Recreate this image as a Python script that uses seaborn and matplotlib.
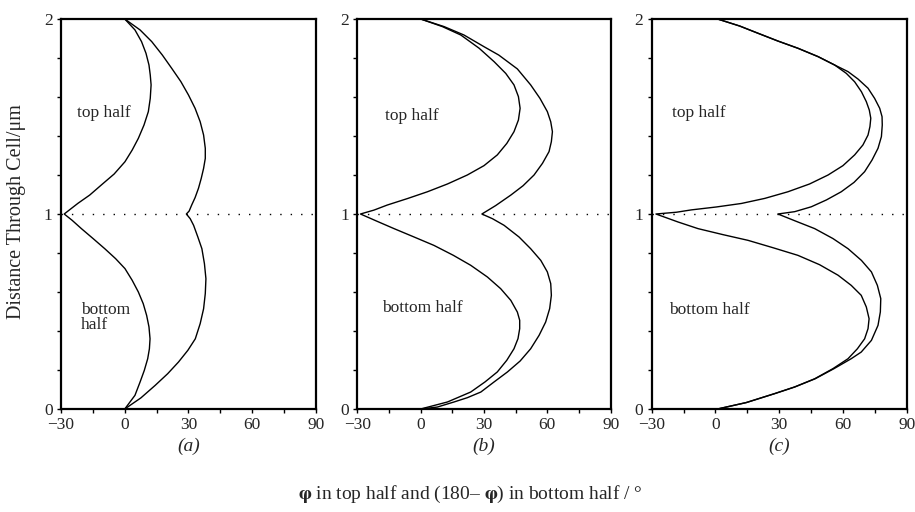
import numpy as np
import pandas as pd
import matplotlib
matplotlib.use("Agg")
import matplotlib.pyplot as plt
import seaborn as sns

# ---- data (x in degrees, y in micrometres) ----
a_inner_y = [0, 0.070, 0.138, 0.198, 0.258, 0.309, 0.36, 0.421, 0.48, 0.540, 0.6, 0.660, 0.72, 0.771,
             0.822, 0.874, 0.925, 0.968, 1.0, 1.055, 1.097, 1.149, 1.205, 1.268, 1.328, 1.388, 1.456,
             1.525, 1.593, 1.662, 1.713, 1.764, 1.824, 1.884, 1.944, 2.0]
a_inner_x = [0, 4.8, 7.2, 9.2, 10.8, 11.6, 11.9, 11.4, 10.3, 8.7, 6.4, 3.5, 0.1, -4.3,
             -9.4, -14.9, -20.4, -24.8, -28.5, -22, -16.5, -11, -5.0, 0.1, 3.5, 6.4, 9.05,
             11.1, 12.0, 12.4, 12.0, 11.4, 10.0, 7.9, 4.8, 0]
a_outer_y = [0, 0.057, 0.121, 0.181, 0.241, 0.301, 0.36, 0.438, 0.514, 0.592, 0.668, 0.745, 0.822,
             0.882, 0.942, 0.976, 1.0, 1.015, 1.046, 1.084, 1.132, 1.183, 1.234, 1.285, 1.337,
             1.405, 1.473, 1.542, 1.61, 1.679, 1.747, 1.815, 1.884, 1.944, 2.0]
a_outer_x = [0, 7.6, 14.3, 20.2, 25.3, 29.7, 33.2, 35.5, 37.1, 37.9, 38.2, 37.5, 36.3,
             34.4, 32.4, 30.8, 29, 30.3, 31.5, 33.1, 34.7, 36.0, 37.1, 37.9, 37.9,
             37.1, 35.5, 33.1, 30, 26.4, 22.1, 17.7, 12.7, 7.2, 0]

b_inner_y = [0, 0.036, 0.087, 0.139, 0.19, 0.250, 0.309, 0.361, 0.412, 0.455, 0.497, 0.557, 0.617,
             0.677, 0.737, 0.788, 0.839, 0.882, 0.925, 0.962, 1.0, 1.020, 1.046, 1.079, 1.114,
             1.154, 1.2, 1.248, 1.303, 1.362, 1.422, 1.482, 1.542, 1.602, 1.662, 1.721, 1.781,
             1.850, 1.918, 1.961, 2.0]
b_inner_x = [0, 12.7, 23.7, 30.5, 36.3, 40.8, 44.2, 46.1, 46.9, 46.9, 45.8, 42.7, 37.9,
             31.6, 23.7, 15.5, 6.3, -3.1, -12.6, -20.5, -28.5, -22.1, -15.8, -6.3, 3.2,
             12.7, 22.1, 30.0, 36.3, 40.8, 44.2, 46.3, 47.1, 46.3, 44.2, 40.3, 34.8,
             27.7, 19.0, 10.3, 0]
b_outer_y = [0, 0.010, 0.036, 0.058, 0.087, 0.139, 0.19, 0.246, 0.309, 0.378, 0.446, 0.515, 0.583,
             0.643, 0.703, 0.762, 0.822, 0.882, 0.942, 0.976, 1.0, 1.043, 1.097, 1.145, 1.2,
             1.260, 1.32, 1.371, 1.422, 1.473, 1.525, 1.593, 1.662, 1.744, 1.815, 1.858, 1.918,
             1.961, 2.0]
b_outer_x = [0, 7.9, 15.8, 22.1, 28.5, 34.8, 41.1, 47.1, 52.1, 56.1, 59.2, 61.1, 61.9,
             61.6, 60, 56.9, 52.1, 46.6, 39.5, 34.0, 29, 35.5, 42.7, 48.5, 53.7,
             57.7, 60.8, 61.9, 62.4, 61.6, 60, 56.5, 52.1, 45.8, 37.0, 30.0, 20.5,
             11.1, 0]

c_inner_y = [0, 0.033, 0.079, 0.113, 0.155, 0.207, 0.258, 0.309, 0.36, 0.412, 0.463, 0.523, 0.583,
             0.634, 0.686, 0.740, 0.788, 0.827, 0.865, 0.894, 0.925, 0.959, 1.0, 1.009, 1.021,
             1.036, 1.054, 1.080, 1.114, 1.154, 1.2, 1.248, 1.303, 1.354, 1.405, 1.448, 1.491,
             1.533, 1.576, 1.627, 1.678, 1.721, 1.764, 1.807, 1.85, 1.887, 1.927, 1.964, 2.0]
c_inner_x = [1, 14.5, 27.9, 37.3, 46.7, 55.3, 62.4, 66.8, 70.2, 71.8, 72.3, 71.0, 68.6,
             63.9, 57.7, 49.0, 38.8, 27.1, 15.3, 3.6, -8.2, -17.6, -28, -18.4, -11.4,
             0.4, 12.2, 23.2, 34.1, 44.3, 53, 60.0, 65.5, 69.4, 71.8, 72.7, 73.1,
             72.4, 71, 68.7, 65.5, 61.6, 56.1, 48.3, 38.8, 29.4, 20, 11.4, 1]
c_outer_y = [0, 0.033, 0.079, 0.113, 0.155, 0.207, 0.258, 0.292, 0.352, 0.429, 0.498, 0.566, 0.634,
             0.703, 0.762, 0.822, 0.874, 0.925, 0.962, 1.0, 1.012, 1.037, 1.072, 1.114, 1.162,
             1.217, 1.277, 1.337, 1.397, 1.456, 1.499, 1.542, 1.593, 1.645, 1.692, 1.730, 1.764,
             1.807, 1.85, 1.887, 1.927, 1.964, 2.0]
c_outer_x = [1, 14.5, 27.9, 37.3, 46.9, 55.8, 63.9, 68.6, 73.4, 76.5, 77.6, 77.8, 76.2,
             73.4, 68.7, 62.4, 55.3, 46.7, 38.1, 29.4, 37.3, 45.1, 52.2, 59.2, 65.2,
             70.2, 73.7, 76.5, 78.1, 78.5, 78.4, 77.3, 74.9, 71.8, 67.1, 62.4, 56.1,
             48.3, 38.8, 29.4, 20, 11.4, 1]

panel_tags = ["(a)", "(b)", "(c)"]
x_ticks = [-30, 0, 30, 60, 90]
x_tick_labels = ["\u221230", "0", "30", "60", "90"]
y_ticks = [0, 1, 2]
top_label_pos = [(-22.4, 1.52), (-16.9, 1.50), (-20.6, 1.52)]
bottom_labels = ["bottom\nhalf", "bottom half", "bottom half"]
bottom_label_pos = [(-20.5, 0.47), (-18.4, 0.52), (-21.7, 0.51)]

panels = [
    (a_inner_x, a_inner_y, a_outer_x, a_outer_y),
    (b_inner_x, b_inner_y, b_outer_x, b_outer_y),
    (c_inner_x, c_inner_y, c_outer_x, c_outer_y),
]

sns.set_theme(style="white")
plt.rcParams["font.family"] = ["Liberation Serif", "DejaVu Serif"]
plt.rcParams["mathtext.fontset"] = "stix"

fig = plt.figure(figsize=(9.15, 5.12), dpi=100)
lefts = [61 / 915, 357.3 / 915, 651.7 / 915]
widths = [255 / 915, 253.4 / 915, 255 / 915]
bottom = 1 - 409 / 512
height = 390 / 512

for i, (ix, iy, ox, oy) in enumerate(panels):
    ax = fig.add_axes([lefts[i], bottom, widths[i], height])
    df = pd.concat([
        pd.DataFrame({"x": ix, "y": iy, "curve": "inner"}),
        pd.DataFrame({"x": ox, "y": oy, "curve": "outer"}),
    ])
    for name, g in df.groupby("curve"):
        sns.lineplot(data=g, x="x", y="y", sort=False, estimator=None,
                     color="black", lw=1.0, ax=ax, legend=False)
    ax.plot([-30, 90], [1, 1], color="black", lw=1.0, linestyle=(0, (1, 6.5)))
    ax.set_xlim(-30, 90)
    ax.set_ylim(0, 2)
    ax.set_xticks(x_ticks)
    ax.set_yticks(y_ticks)
    ax.set_xticks(np.arange(-30, 91, 15), minor=True)
    ax.set_yticks(np.arange(0, 2.01, 0.2), minor=True)
    ax.set_xticklabels(x_tick_labels)
    ax.tick_params(which="both", direction="out", length=3, width=1, color="black",
                   bottom=True, left=True, labelsize=12.5, pad=3)
    ax.set_xlabel("")
    ax.set_ylabel("")
    for s in ax.spines.values():
        s.set_visible(True)
        s.set_color("black")
        s.set_linewidth(1.6)
    ax.text(*top_label_pos[i], "top half", fontsize=12.5, va="center", ha="left")
    ax.text(*bottom_label_pos[i], bottom_labels[i], fontsize=12.5, va="center", ha="left",
            linespacing=0.9)
    ax.text(0.5, -0.097, panel_tags[i], transform=ax.transAxes, fontsize=14,
            style="italic", ha="center", va="center")

fig.text(17 / 915, 1 - 212 / 512, "Distance Through Cell/\u03bcm", rotation=90,
         fontsize=14.5, ha="center", va="center")
fig.text(470 / 915, 1 - 494 / 512,
         "$\\mathbf{\\varphi}$ in top half and (180\u2013 $\\mathbf{\\varphi}$) in bottom half / \u00b0",
         fontsize=14, ha="center", va="center")

fig.savefig("out.png", dpi=100)
